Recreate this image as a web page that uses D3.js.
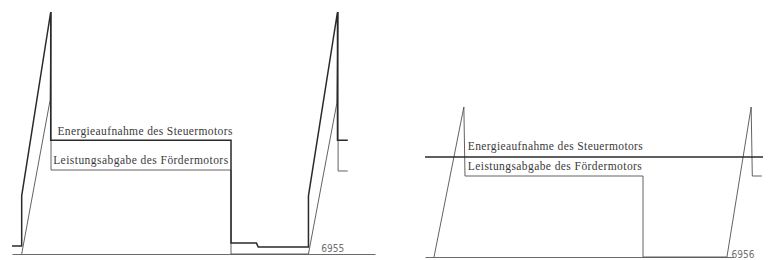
<!DOCTYPE html>
<html>
<head>
<meta charset="utf-8">
<script src="https://cdn.jsdelivr.net/npm/d3@7"></script>
<style>
  body { margin: 0; background: #fff; }
  svg { display: block; }
  .label { font-family: "Liberation Serif", serif; font-size: 11.5px; fill: #3a3a3a; }
  .fig { font-family: "DejaVu Sans", sans-serif; font-size: 10px; fill: #707070; }
</style>
</head>
<body>
<svg id="chart" width="768" height="260"></svg>
<script>
// diagram 6955 (left): time in s, power in % of peak
const leftSteuerT = [0, 1.6, 1.6, 6.4, 6.4, 36.2, 36.2, 40.4, 40.7, 49.0, 49.0, 53.8, 53.8, 55.5]
const leftSteuerP = [3.3, 3.3, 24, 100, 47, 47, 4.5, 4.5, 2.9, 2.9, 24, 100, 47, 47]
const leftFoerderT = [1.6, 6.3, 6.45, 6.45, 36.2, 36.2, 49.0, 53.7, 53.9, 53.9, 55.5]
const leftFoerderP = [0, 63.6, 100, 34.7, 34.7, 0, 0, 62.4, 100, 34.3, 34.3]

// diagram 6956 (right)
const rightSteuerT = [0, 60]
const rightSteuerP = [66.7, 66.7]
const rightFoerderT = [1.6, 6.9, 7.1, 38.7, 38.7, 53.6, 57.9, 58.1, 59.8]
const rightFoerderP = [0, 100, 54, 54, 0, 0, 100, 54, 54]

const labelSteuer = 'Energieaufnahme des Steuermotors'
const labelFoerder = 'Leistungsabgabe des Fördermotors'
const figureNumbers = ['6955', '6956']

const zip = (ts, ps) => ts.map((t, i) => ({ t, p: ps[i] }))

function drawPanel(chart, cfg) {
    const x = d3.scaleLinear().domain([0, 60]).range(cfg.xRange)
    const y = d3.scaleLinear().domain([0, 100]).range(cfg.yRange)
    const g = chart.append('g')
    const line = d3.line().x(d => x(d.t)).y(d => y(d.p))

    // baseline as an axis without ticks
    const axisScale = x.copy().domain([0, cfg.baseEnd]).range([x(0), x(cfg.baseEnd)])
    g.append('g')
        .attr('transform', `translate(0,${y(0)})`)
        .call(d3.axisBottom(axisScale).tickValues([]).tickSizeOuter(0))
        .call(a => a.select('.domain').attr('stroke', '#5a5a5a').attr('stroke-width', 0.9))

    g.append('path')
        .datum(cfg.foerder)
        .attr('d', line)
        .attr('fill', 'none')
        .attr('stroke', '#505050')
        .attr('stroke-width', 0.9)

    g.append('path')
        .datum(cfg.steuer)
        .attr('d', line)
        .attr('fill', 'none')
        .attr('stroke', '#2a2a2a')
        .attr('stroke-width', 1.5)

    cfg.labels.forEach(l => {
        g.append('text')
            .attr('class', 'label')
            .attr('x', x(l.t))
            .attr('y', y(l.p))
            .attr('textLength', l.w)
            .attr('lengthAdjust', 'spacing')
            .text(l.text)
    })

    g.append('text')
        .attr('class', 'fig')
        .attr('x', x(cfg.fig.t))
        .attr('y', y(cfg.fig.p))
        .attr('textLength', 23)
        .attr('lengthAdjust', 'spacingAndGlyphs')
        .text(cfg.fig.text)
}

function main() {
    const chart = d3.select('#chart')

    drawPanel(chart, {
        xRange: [12, 375],
        yRange: [254, 12],
        baseEnd: 60,
        steuer: zip(leftSteuerT, leftSteuerP),
        foerder: zip(leftFoerderT, leftFoerderP),
        labels: [
            { text: labelSteuer, t: 7.5, p: 49, w: 175 },
            { text: labelFoerder, t: 6.8, p: 37, w: 175 }
        ],
        fig: { text: figureNumbers[0], t: 51.1, p: 0.8 }
    })

    drawPanel(chart, {
        xRange: [425, 763],
        yRange: [257, 107],
        baseEnd: 54.8,
        steuer: zip(rightSteuerT, rightSteuerP),
        foerder: zip(rightFoerderT, rightFoerderP),
        labels: [
            { text: labelSteuer, t: 7.6, p: 71.5, w: 175 },
            { text: labelFoerder, t: 7.6, p: 58, w: 174 }
        ],
        fig: { text: figureNumbers[1], t: 54.4, p: -0.7 }
    })
}

main()
</script>
</body>
</html>
